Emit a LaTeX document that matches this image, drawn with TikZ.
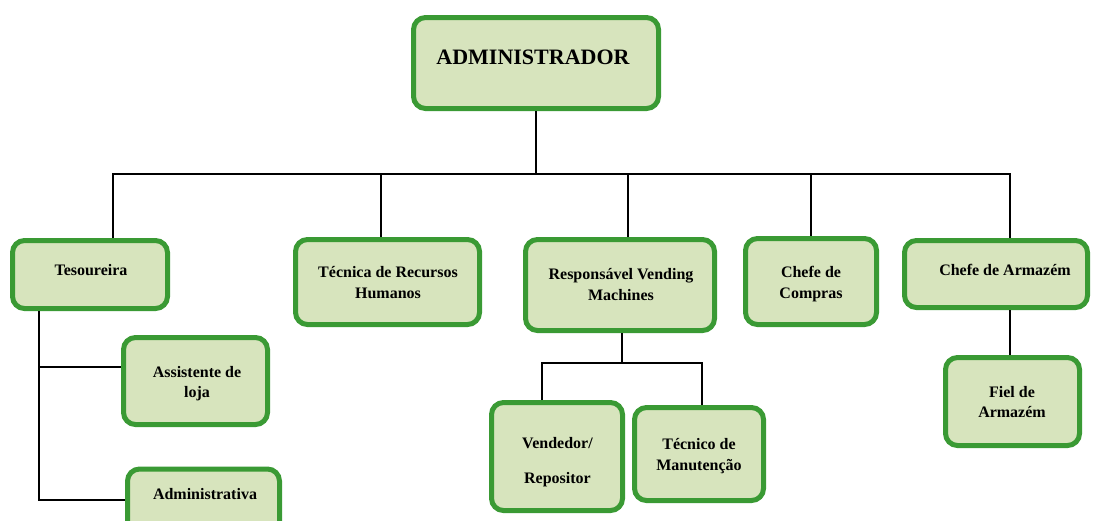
\documentclass[tikz,border=0pt]{standalone}
\usepackage{fontspec}
\setmainfont{Liberation Serif}
\definecolor{boxgreen}{RGB}{58,154,52}
\definecolor{boxfill}{RGB}{215,228,189}
\begin{document}
\begin{tikzpicture}[x=1pt,y=-1pt,
  box/.style={draw=boxgreen,fill=boxfill,line width=5pt,rounded corners=12pt,inner sep=0pt},
  lbl/.style={anchor=base,font=\bfseries\fontsize{16}{21}\selectfont,text=black,inner sep=0pt},
  conn/.style={draw=black,line width=1.8pt}]
\useasboundingbox (0,0) rectangle (1094,520);
\clip (0,0) rectangle (1094,520);
% boxes
\node[box,minimum width=245pt,minimum height=91pt] (adm) at (536,63) {};
\node[box,minimum width=155pt,minimum height=68pt] (tes) at (90,274.5) {};
\node[box,minimum width=184pt,minimum height=85pt] (rh) at (387.5,282) {};
\node[box,minimum width=189pt,minimum height=91pt] (rvm) at (620,285) {};
\node[box,minimum width=131pt,minimum height=86pt] (comp) at (811,281.5) {};
\node[box,minimum width=183pt,minimum height=67pt] (arm) at (996,274) {};
\node[box,minimum width=144pt,minimum height=87pt] (ass) at (195.5,381) {};
\node[box,minimum width=152pt,minimum height=80pt] (admv) at (203.5,509) {};
\node[box,minimum width=131pt,minimum height=108pt] (vend) at (557,456.5) {};
\node[box,minimum width=129pt,minimum height=93pt] (tec) at (699,454) {};
\node[box,minimum width=134pt,minimum height=88pt] (fiel) at (1012.5,401.5) {};
% labels
\node[lbl,font=\bfseries\fontsize{22}{26}\selectfont] (tadm) at (533,64) {ADMINISTRADOR};
\node[lbl] (ttes) at (91,275) {Tesoureira};
\node[lbl] (trh1) at (388,277) {Técnica de Recursos};
\node[lbl] (trh2) at (388,298) {Humanos};
\node[lbl] (trvm1) at (621,279) {Responsável Vending};
\node[lbl] (trvm2) at (621,300) {Machines};
\node[lbl] (tcomp1) at (811,277) {Chefe de};
\node[lbl] (tcomp2) at (811,298) {Compras};
\node[lbl] (tarm) at (1005,275) {Chefe de Armazém};
\node[lbl] (tass1) at (197,377) {Assistente de};
\node[lbl] (tass2) at (197,397) {loja};
\node[lbl] (tadmv) at (205,499) {Administrativa};
\node[lbl] (tvend1) at (557.5,448) {Vendedor/};
\node[lbl] (tvend2) at (557.5,483) {Repositor};
\node[lbl] (ttec1) at (699,449) {Técnico de};
\node[lbl] (ttec2) at (699,470) {Manutenção};
\node[lbl] (tfiel1) at (1012,397) {Fiel de};
\node[lbl] (tfiel2) at (1012,417) {Armazém};
% bus coordinates
\coordinate (b0) at (113,174);
\coordinate (b1) at (381,174);
\coordinate (b2) at (628,174);
\coordinate (b3) at (811,174);
\coordinate (b4) at (1010,174);
\coordinate (t1) at (39,367);
\coordinate (t2) at (39,500);
\coordinate (r1) at (542,363);
\coordinate (r2) at (702,363);
\coordinate (rm) at (622,363);
% connectors
\begin{scope}[on background layer/.style={}]
\draw[conn] (adm.south) -- (adm.south |- b0);
\draw[conn] (b0 |- tes.north) -- (b0) -- (b4) -- (b4 |- arm.north);
\draw[conn] (b1) -- (b1 |- rh.north);
\draw[conn] (b2) -- (b2 |- rvm.north);
\draw[conn] (b3) -- (b3 |- comp.north);
\draw[conn] (t1 |- tes.south) -- (t2) -- (t2 -| admv.west);
\draw[conn] (t1) -- (t1 -| ass.west);
\draw[conn] (rm |- rvm.south) -- (rm);
\draw[conn] (r1 |- vend.north) -- (r1) -- (r2) -- (r2 |- tec.north);
\draw[conn] (arm.south -| b4) -- (fiel.north -| b4);
\end{scope}
\end{tikzpicture}
\end{document}
